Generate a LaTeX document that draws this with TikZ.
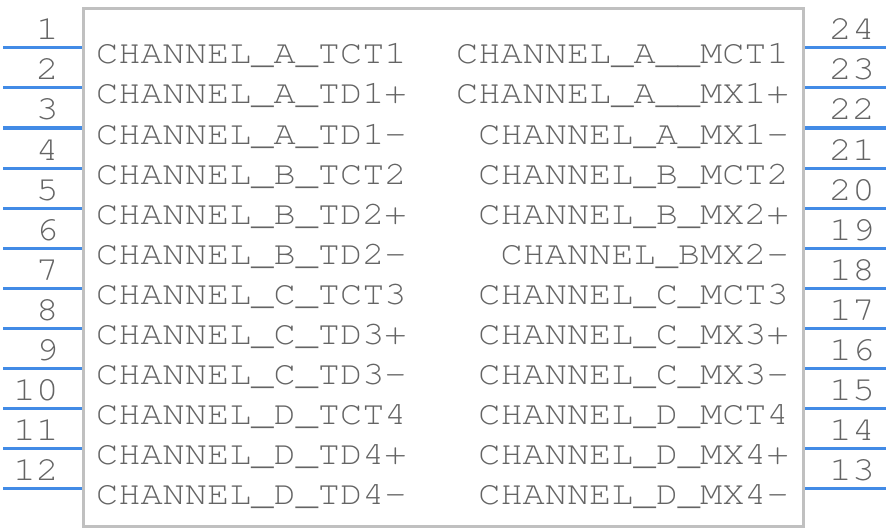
\documentclass[tikz,border=0pt]{standalone}
\usepackage{fontspec}
\newfontfamily\pinfont[Extension=.otf,FakeStretch=1.12]{texgyrecursor-regular}
\definecolor{pinblue}{RGB}{66,139,230}
\definecolor{boxgray}{RGB}{192,192,192}
\definecolor{txtgray}{RGB}{100,100,100}
\tikzset{
  lbl/.style={inner sep=0pt, text=txtgray, font=\pinfont\fontsize{33}{33}\selectfont},
  num/.style={inner sep=0pt, text=txtgray, font=\pinfont\fontsize{34}{34}\selectfont},
  pinline/.style={draw=pinblue, line width=3pt},
  body/.style={draw=boxgray, line width=3pt}
}
\begin{document}
\begin{tikzpicture}[x=1pt,y=-1pt]
\useasboundingbox (0,0) rectangle (888,532);
\draw[body] (83.5,8.5) rectangle (803.5,526.5);
\foreach \i/\t in {1/CHANNEL\_A\_TCT1,2/CHANNEL\_A\_TD1+,3/CHANNEL\_A\_TD1-,4/CHANNEL\_B\_TCT2,5/CHANNEL\_B\_TD2+,6/CHANNEL\_B\_TD2-,7/CHANNEL\_C\_TCT3,8/CHANNEL\_C\_TD3+,9/CHANNEL\_C\_TD3-,10/CHANNEL\_D\_TCT4,11/CHANNEL\_D\_TD4+,12/CHANNEL\_D\_TD4-}{
  \coordinate (la\i) at (3,{8+40*\i});
  \coordinate (lb\i) at (82,{8+40*\i});
  \draw[pinline] (la\i) -- (lb\i);
  \node[num, anchor=base east] (ln\i) at (59,{40*\i}) {\i};
  \node[lbl, anchor=base west] (lt\i) at (96,{24+40*\i}) {\t};
}
\foreach \i/\n/\t in {1/24/CHANNEL\_A\_\_MCT1,2/23/CHANNEL\_A\_\_MX1+,3/22/CHANNEL\_A\_MX1-,4/21/CHANNEL\_B\_MCT2,5/20/CHANNEL\_B\_MX2+,6/19/CHANNEL\_BMX2-,7/18/CHANNEL\_C\_MCT3,8/17/CHANNEL\_C\_MX3+,9/16/CHANNEL\_C\_MX3-,10/15/CHANNEL\_D\_MCT4,11/14/CHANNEL\_D\_MX4+,12/13/CHANNEL\_D\_MX4-}{
  \coordinate (ra\n) at (805,{8+40*\i});
  \coordinate (rb\n) at (886,{8+40*\i});
  \draw[pinline] (ra\n) -- (rb\n);
  \node[num, anchor=base west] (rn\n) at (829,{40*\i}) {\n};
  \node[lbl, anchor=base east] (rt\n) at (789,{24+40*\i}) {\t};
}
\end{tikzpicture}
\end{document}
